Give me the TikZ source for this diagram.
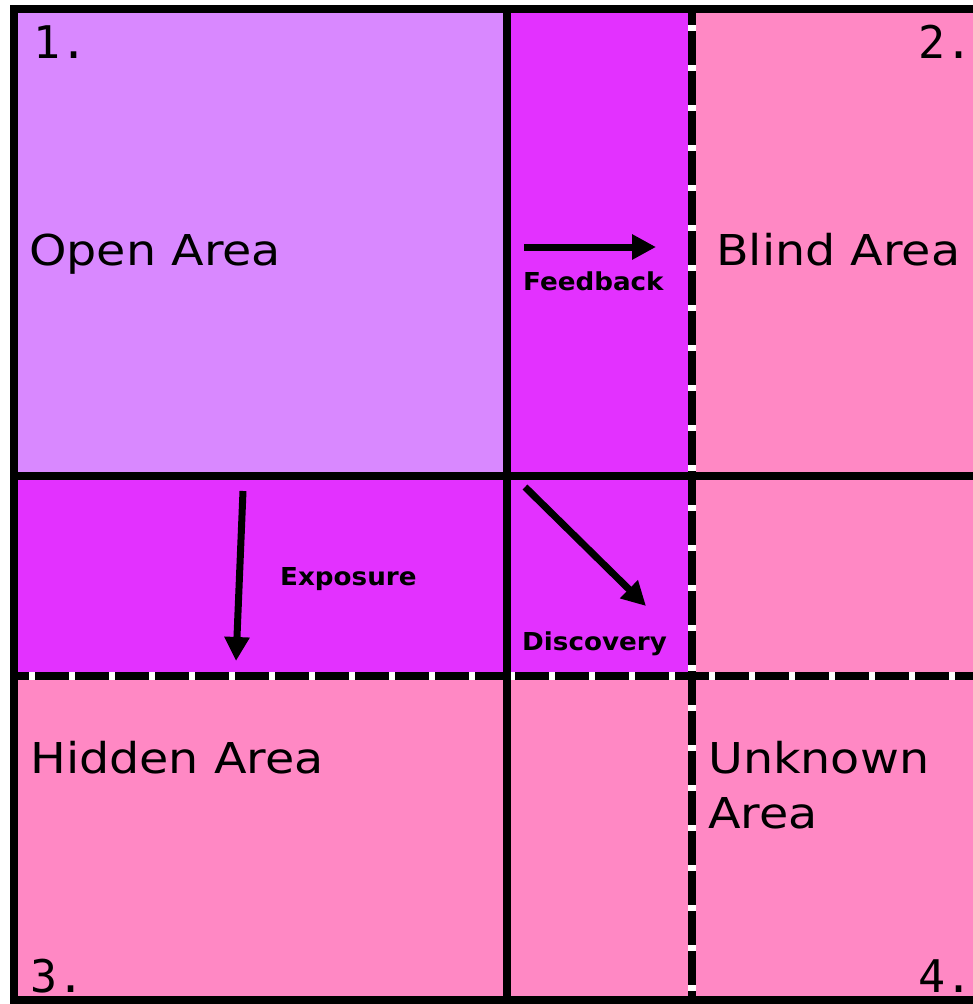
\documentclass[tikz,border=0pt]{standalone}
\usepackage{fontspec}
\setmainfont{DejaVu Sans}
\newfontfamily\numfont{DejaVu Sans Mono}
\usetikzlibrary{arrows.meta}
\definecolor{openc}{HTML}{D988FF}
\definecolor{stripc}{HTML}{E331FF}
\definecolor{pinkc}{HTML}{FF88C4}
\tikzset{
  solidline/.style={line width=7.5pt,black},
  dashbase/.style={line width=7.5pt,white},
  dashtop/.style={line width=7.5pt,black,dash pattern=on 34pt off 6pt},
  bigtext/.style={inner sep=0pt,anchor=base west,font=\fontsize{42.5}{51}\selectfont,xscale=1.12},
  numtext/.style={inner sep=0pt,anchor=base west,font=\numfont\fontsize{45}{54}\selectfont},
  smalltext/.style={inner sep=0pt,anchor=base west,font=\bfseries\fontsize{24.7}{30}\selectfont,xscale=1.06},
  arrowline/.style={line width=7pt,-{Triangle[length=24pt,width=24pt]}},
}
\begin{document}
\begin{tikzpicture}[x=1pt,y=-1pt]
\useasboundingbox (0,0) rectangle (973,1004);
\fill[white] (0,0) rectangle (973,1004);
% fills
\fill[pinkc] (14,9) rectangle (990,1000);
\fill[openc] (14,9) rectangle (507,476);
\fill[stripc] (507,9) rectangle (692,676);
\fill[stripc] (14,476) rectangle (507,676);
% coordinates
\coordinate (tl) at (14,9);
\coordinate (tr) at (990,9);
\coordinate (bl) at (14,1000);
\coordinate (br) at (990,1000);
\coordinate (vsT) at (507,9);
\coordinate (vsB) at (507,1000);
\coordinate (hsL) at (14,476);
\coordinate (hsR) at (990,476);
\coordinate (vdT) at (692,9);
\coordinate (vdB) at (692,1000);
\coordinate (hdL) at (14,676);
\coordinate (hdR) at (990,676);
% dashed lines
\draw[dashbase] (vdT) -- (vdB);
\draw[dashtop,dash phase=18pt] (vdT) -- (vdB);
\draw[dashbase] (hdL) -- (hdR);
\draw[dashtop,dash phase=19pt] (hdL) -- (hdR);
% solid lines
\draw[solidline] (vsT) -- (vsB);
\draw[solidline] (hsL) -- (hsR);
\draw[solidline,line cap=rect] (tr) -- (tl) -- (bl) -- (br);
% texts
\node[numtext] (n1) at (33,58) {1.};
\node[numtext] (n2) at (918,58) {2.};
\node[numtext] (n3) at (30,992) {3.};
\node[numtext] (n4) at (918,992) {4.};
\node[bigtext] (open) at (29,265) {Open Area};
\node[bigtext] (blind) at (716,265) {Blind Area};
\node[bigtext] (hidden) at (30,773) {Hidden Area};
\node[bigtext] (unknown) at (708,773) {Unknown};
\node[bigtext] (unknownb) at (708,828) {Area};
\node[smalltext] (feedback) at (523,290) {Feedback};
\node[smalltext] (exposure) at (280,585) {Exposure};
\node[smalltext] (discovery) at (522,650) {Discovery};
% arrows
\coordinate (fbS) at (524,247);
\coordinate (fbE) at (656,247);
\coordinate (exS) at (243,491);
\coordinate (exE) at (236,661);
\coordinate (dcS) at (525,487);
\coordinate (dcE) at (646,606);
\draw[arrowline] (fbS) -- (fbE);
\draw[arrowline] (exS) -- (exE);
\draw[arrowline] (dcS) -- (dcE);
\end{tikzpicture}
\end{document}
